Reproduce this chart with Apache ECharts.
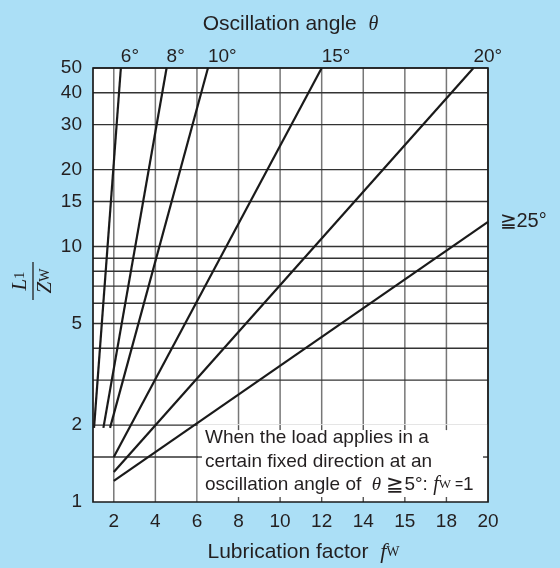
<!DOCTYPE html>
<html><head><meta charset="utf-8">
<script src="https://cdn.jsdelivr.net/npm/echarts@6/dist/echarts.min.js"></script>
<style>html,body{margin:0;padding:0;background:#abdff6}#c{width:560px;height:568px}</style>
</head><body><div id="c"></div>
<script>
// ---- data ----
const xTicks = [2, 4, 6, 8, 10, 12, 14, 15, 18, 20];          // lubrication factor tick labels
const yGrid = [1.5, 2, 3, 4, 5, 6, 7, 8, 9, 10, 15, 20, 30, 40, 50];
const yLabels = [1, 2, 5, 10, 15, 20, 30, 40, 50];
const angleNames = ['6°', '8°', '10°', '15°', '20°', '≧25°'];
const fw6 = [1.05, 2.34],  L6 = [1.95, 50];
const fw8 = [1.5, 4.54],   L8 = [1.95, 50];
const fw10 = [1.82, 6.53], L10 = [1.95, 50];
const fw15 = [2, 12],      L15 = [1.5, 50];
const fw20 = [2, 19.3],    L20 = [1.31, 50];
const fw25 = [2, 20],      L25 = [1.21, 12.5];
const boxFw = [6, 20], boxL = [1, 2];

function fwToPos(fw) {
  if (fw <= xTicks[0]) return (fw - xTicks[0]) / (xTicks[1] - xTicks[0]);
  for (let i = 0; i < xTicks.length - 1; i++) {
    if (fw <= xTicks[i + 1]) return i + (fw - xTicks[i]) / (xTicks[i + 1] - xTicks[i]);
  }
  return xTicks.length - 1;
}

const SANS = '"Liberation Sans", Arial, Helvetica, sans-serif';
const SERIF = '"Liberation Serif", "DejaVu Serif", serif';
const TXT = '#231f20';

const lines = [[fw6, L6], [fw8, L8], [fw10, L10], [fw15, L15], [fw20, L20], [fw25, L25]];

const lineSeries = lines.map((pair, k) => ({
  type: 'line', z: 3, animation: false, silent: true,
  symbol: 'circle', symbolSize: 1, showSymbol: true,
  itemStyle: { color: 'rgba(0,0,0,0)' },
  lineStyle: { color: '#1a1a1a', width: 2.2 },
  data: pair[0].map((f, i) => {
    const item = { value: [fwToPos(f), pair[1][i]] };
    if (i === pair[0].length - 1) {
      item.label = k < 5
        ? { show: true, formatter: angleNames[k], position: 'top', align: 'left', distance: 1,
            fontSize: 19, fontFamily: SANS, color: TXT }
        : { show: true, formatter: angleNames[k], position: 'right', distance: 11,
            fontSize: 20, fontFamily: SANS, color: TXT };
    }
    return item;
  })
}));

const backSeries = {
  type: 'custom', z: 1, silent: true, animation: false, clip: false,
  data: [[0, 1]],
  renderItem: function (params, api) {
    const c = (f, l) => api.coord([fwToPos(f), l]);
    const left = c(1, 1)[0], right = c(20, 1)[0];
    const top = c(2, 50)[1], bottom = c(2, 1)[1];
    const ch = [];
    ch.push({ type: 'rect', shape: { x: left, y: top, width: right - left, height: bottom - top },
      style: { fill: '#ffffff' } });
    xTicks.forEach(t => {
      const x = c(t, 1)[0];
      ch.push({ type: 'line', shape: { x1: x, y1: top, x2: x, y2: bottom },
        style: { stroke: '#777777', lineWidth: 1.5 } });
    });
    yGrid.forEach(v => {
      const y = c(2, v)[1];
      ch.push({ type: 'line', shape: { x1: left, y1: y, x2: right, y2: y },
        style: { stroke: '#333333', lineWidth: 1.4 } });
    });
    // annotation box
    const bx = c(boxFw[0], 1)[0], bx2 = c(boxFw[1], 1)[0];
    const by = c(2, boxL[1])[1], by2 = c(2, boxL[0])[1];
    ch.push({ type: 'rect', shape: { x: bx + 0.8, y: by - 0.8, width: bx2 - bx - 0.8, height: by2 - by + 0.8 },
      style: { fill: '#ffffff' } });
    xTicks.filter(t => t > boxFw[0] && t < boxFw[1]).forEach(t => {
      const x = c(t, 1)[0];
      ch.push({ type: 'line', shape: { x1: x, y1: by, x2: x, y2: by + 5 }, style: { stroke: '#555', lineWidth: 1.4 } });
      ch.push({ type: 'line', shape: { x1: x, y1: by2, x2: x, y2: by2 - 5 }, style: { stroke: '#555', lineWidth: 1.4 } });
    });
    yGrid.filter(v => v > boxL[0] && v < boxL[1]).forEach(v => {
      const y = c(2, v)[1];
      ch.push({ type: 'line', shape: { x1: bx, y1: y, x2: bx + 5, y2: y }, style: { stroke: '#333', lineWidth: 1.4 } });
      ch.push({ type: 'line', shape: { x1: bx2, y1: y, x2: bx2 - 5, y2: y }, style: { stroke: '#333', lineWidth: 1.4 } });
    });
    ch.push({ type: 'text', x: bx + 8, y: by + 1,
      style: {
        text: 'When the load applies in a\ncertain fixed direction at an\noscillation angle of  {th|θ} {ge|≧}5°: {f|f}{w|W}{eq| =}1',
        fontSize: 19, fontFamily: SANS, fill: TXT, lineHeight: 23.5, verticalAlign: 'top', align: 'left',
        rich: {
          th: { fontFamily: SERIF, fontStyle: 'italic', fontSize: 19, lineHeight: 23.5 },
          ge: { fontSize: 21, lineHeight: 23.5 },
          f: { fontFamily: SERIF, fontStyle: 'italic', fontSize: 20, lineHeight: 23.5 },
          w: { fontFamily: SERIF, fontSize: 13, lineHeight: 23.5 },
          eq: { fontSize: 14, lineHeight: 23.5 }
        }
      } });
    ch.push({ type: 'rect', shape: { x: left, y: top, width: right - left, height: bottom - top },
      style: { fill: null, stroke: '#1a1a1a', lineWidth: 1.7 } });
    return { type: 'group', children: ch };
  }
};

const chart = echarts.init(document.getElementById('c'), null, { renderer: 'canvas' });
chart.setOption({
  backgroundColor: '#abdff6',
  animation: false,
  grid: { left: 93, right: 72, top: 68, bottom: 63, show: false },
  xAxis: [{
    type: 'value', min: fwToPos(1), max: fwToPos(20),
    axisLine: { show: false }, axisTick: { show: false }, splitLine: { show: false },
    axisLabel: { customValues: xTicks.map(fwToPos), formatter: v => String(xTicks[Math.round(v)]),
      fontSize: 19, fontFamily: SANS, color: TXT, margin: 10 },
    name: 'Lubrication factor  {f|f}{w|W}', nameLocation: 'middle', nameGap: 39,
    nameTextStyle: { fontSize: 21, fontFamily: SANS, color: TXT, padding: [0, 0, 0, 26],
      rich: { f: { fontFamily: SERIF, fontStyle: 'italic', fontSize: 22 }, w: { fontFamily: SERIF, fontSize: 14 } } }
  }, {
    type: 'value', position: 'top', min: fwToPos(1), max: fwToPos(20),
    axisLine: { show: false }, axisTick: { show: false }, splitLine: { show: false }, axisLabel: { show: false },
    name: 'Oscillation angle  {t|θ}', nameLocation: 'middle', nameGap: 33,
    nameTextStyle: { fontSize: 21, fontFamily: SANS, color: TXT,
      rich: { t: { fontFamily: SERIF, fontStyle: 'italic', fontSize: 20 } } }
  }],
  yAxis: {
    type: 'log', logBase: 10, min: 1, max: 50,
    axisLine: { show: false }, axisTick: { show: false }, splitLine: { show: false },
    axisLabel: { customValues: yLabels, formatter: v => String(Math.round(v * 10) / 10),
      fontSize: 19, fontFamily: SANS, color: TXT, margin: 11 }
  },
  graphic: [{
    type: 'group', x: 33, y: 281, rotation: Math.PI / 2, silent: true,
    children: [
      { type: 'text', x: 0, y: -2, style: { text: '{L|L}{s|1}', align: 'center', verticalAlign: 'bottom', fill: TXT,
        rich: { L: { fontFamily: SERIF, fontStyle: 'italic', fontSize: 21 }, s: { fontFamily: SERIF, fontSize: 15 } } } },
      { type: 'line', shape: { x1: -19, y1: 0, x2: 19, y2: 0 }, style: { stroke: TXT, lineWidth: 1.3 } },
      { type: 'text', x: 0, y: 2, style: { text: '{Z|Z}{s|W}', align: 'center', verticalAlign: 'top', fill: TXT,
        rich: { Z: { fontFamily: SERIF, fontStyle: 'italic', fontSize: 21 }, s: { fontFamily: SERIF, fontSize: 14 } } } }
    ]
  }],
  series: [backSeries].concat(lineSeries)
});
</script></body></html>
